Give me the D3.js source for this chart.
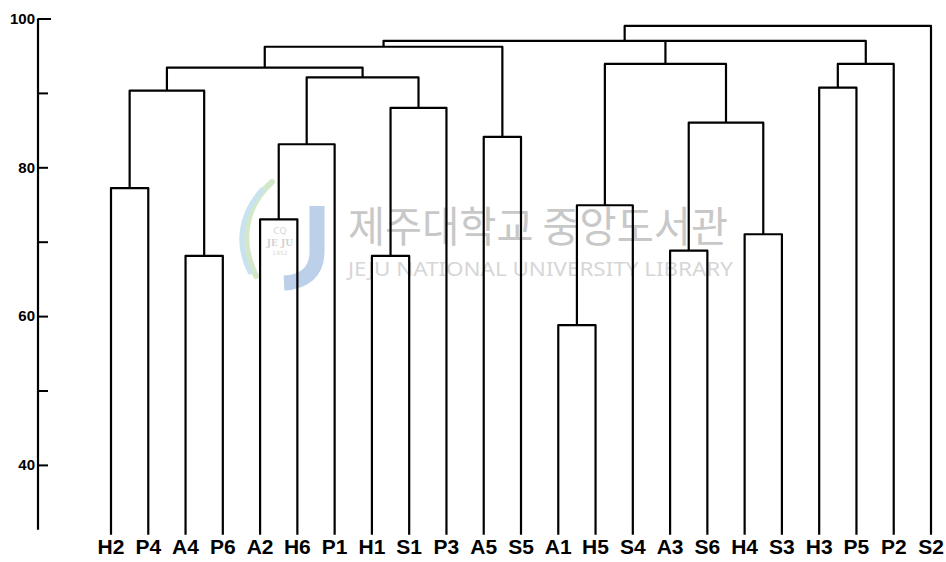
<!DOCTYPE html>
<html>
<head>
<meta charset="utf-8">
<script src="https://cdn.jsdelivr.net/npm/d3@7"></script>
<style>
  html, body { margin: 0; padding: 0; background: #fff; }
  svg { display: block; }
</style>
</head>
<body>
<svg id="chart" width="946" height="562"></svg>
<script>
// Leaf order along the bottom of the dendrogram
const leaves = ["H2","P4","A4","P6","A2","H6","P1","H1","S1","P3","A5","S5",
                "A1","H5","S4","A3","S6","H4","S3","H3","P5","P2","S2"];

// Cluster joins: id, members (leaf names or earlier join ids), similarity level
const joinIds = ["c1","c2","c3","c4","c5","c6","c7","c8","c9","c10","c11",
                 "c12","c13","c14","c15","c16","c17","c18","c19","c20","c21"];
const joinMembers = [
  ["H2","P4"], ["A4","P6"], ["c1","c2"],
  ["A2","H6"], ["c4","P1"], ["H1","S1"], ["c6","P3"], ["c5","c7"],
  ["c3","c8"], ["A5","S5"], ["c9","c10"],
  ["A1","H5"], ["c12","S4"], ["A3","S6"], ["H4","S3"], ["c14","c15"], ["c13","c16"],
  ["H3","P5"], ["c18","P2"],
  ["c11","c17","c19"], ["c20","S2"]
];
const joinLevels = [77.2, 68.1, 90.3,
                    73.0, 83.1, 68.1, 88.0, 92.1,
                    93.4, 84.1, 96.2,
                    58.8, 74.9, 68.8, 71.0, 86.0, 93.9,
                    90.7, 93.9,
                    97.0, 99.0];

// Axis ticks
const tickValues = [40, 50, 60, 70, 80, 90, 100];
const tickLabels = ["40", "", "60", "", "80", "", "100"];

const axisBottomValue = 31.3;
const leafBaseValue = 30.6;

const svg = d3.select("#chart");

const x = d3.scalePoint().domain(leaves).range([111, 931]);
const y = d3.scaleLinear().domain([30, 100]).range([539.3, 18.5]);

// ---- library watermark (drawn first, behind the tree) ----
const wm = svg.append("g").attr("class", "watermark");
wm.append("path")
  .attr("d", "M272,182 C246,205 238,240 256,276")
  .attr("fill", "none").attr("stroke", "#d3e8c8").attr("stroke-width", 6).attr("stroke-linecap", "round");
wm.append("path")
  .attr("d", "M262,190 C240,214 236,245 250,272")
  .attr("fill", "none").attr("stroke", "#c8e2f0").attr("stroke-width", 5).attr("stroke-linecap", "round");
wm.append("path")
  .attr("d", "M317,206 L317,252 C317,272 304,282 284,283")
  .attr("fill", "none").attr("stroke", "#bcd0ea").attr("stroke-width", 15).attr("stroke-linecap", "butt");
wm.append("text").attr("x", 280).attr("y", 246).attr("text-anchor", "middle")
  .attr("font-family", "DejaVu Serif").attr("font-size", 9).attr("font-weight", "bold")
  .attr("fill", "#d2d2d2").text("JE JU");
wm.append("text").attr("x", 280).attr("y", 234).attr("text-anchor", "middle")
  .attr("font-family", "DejaVu Sans").attr("font-size", 9)
  .attr("fill", "#d8d8d8").text("CQ");
wm.append("text").attr("x", 280).attr("y", 255).attr("text-anchor", "middle")
  .attr("font-family", "DejaVu Sans").attr("font-size", 6)
  .attr("fill", "#d8d8d8").text("1952");
wm.append("text")
  .attr("x", 348).attr("y", 242)
  .attr("font-family", "'Noto Sans CJK KR'").attr("font-size", 42)
  .attr("textLength", 380).attr("lengthAdjust", "spacingAndGlyphs")
  .attr("fill", "#c8c8c8")
  .text("제주대학교 중앙도서관");
wm.append("text")
  .attr("x", 348).attr("y", 276)
  .attr("font-family", "'Noto Sans'").attr("font-size", 19)
  .attr("textLength", 385).attr("lengthAdjust", "spacingAndGlyphs")
  .attr("fill", "#d6d6d6")
  .text("JEJU NATIONAL UNIVERSITY LIBRARY");

// ---- y axis ----
const axis = d3.axisLeft(y)
  .tickValues(tickValues)
  .tickSizeInner(-10)
  .tickSizeOuter(0)
  .tickPadding(14)
  .tickFormat((d, i) => tickLabels[i]);

const gAxis = svg.append("g")
  .attr("transform", "translate(38,0)")
  .call(axis);
gAxis.select(".domain").remove();
gAxis.append("line")
  .attr("x1", 0).attr("x2", 0)
  .attr("y1", y(100)).attr("y2", y(axisBottomValue))
  .attr("stroke", "#000").attr("stroke-width", 2.2);
gAxis.selectAll(".tick line")
  .attr("stroke", "#000").attr("stroke-width", 2)
  .attr("x2", d => d === 100 ? 13 : 10);
gAxis.selectAll(".tick text")
  .attr("x", -3)
  .attr("fill", "#000")
  .attr("font-family", "'Liberation Sans', Arial, sans-serif")
  .attr("font-size", 15)
  .attr("font-weight", "bold");

// ---- dendrogram ----
const posX = new Map();
const level = new Map();
leaves.forEach(l => { posX.set(l, x(l)); level.set(l, leafBaseValue); });

const tree = svg.append("g")
  .attr("fill", "none")
  .attr("stroke", "#000")
  .attr("stroke-width", 2.2)
  .attr("stroke-linejoin", "round");

joinIds.forEach((id, i) => {
  const kids = joinMembers[i];
  const h = joinLevels[i];
  const first = kids[0], last = kids[kids.length - 1];
  const xf = posX.get(first), xl = posX.get(last);
  tree.append("path")
    .attr("d", `M${xf},${y(level.get(first))}V${y(h)}H${xl}V${y(level.get(last))}`);
  kids.slice(1, -1).forEach(k => {
    tree.append("path")
      .attr("d", `M${posX.get(k)},${y(level.get(k))}V${y(h)}`);
  });
  posX.set(id, (xf + xl) / 2);
  level.set(id, h);
});

// ---- leaf labels ----
svg.append("g")
  .selectAll("text")
  .data(leaves)
  .join("text")
  .attr("x", d => x(d))
  .attr("y", 554)
  .attr("text-anchor", "middle")
  .attr("font-family", "'Liberation Sans', Arial, sans-serif")
  .attr("font-size", 21)
  .attr("font-weight", "bold")
  .attr("fill", "#000")
  .text(d => d);
</script>
</body>
</html>
